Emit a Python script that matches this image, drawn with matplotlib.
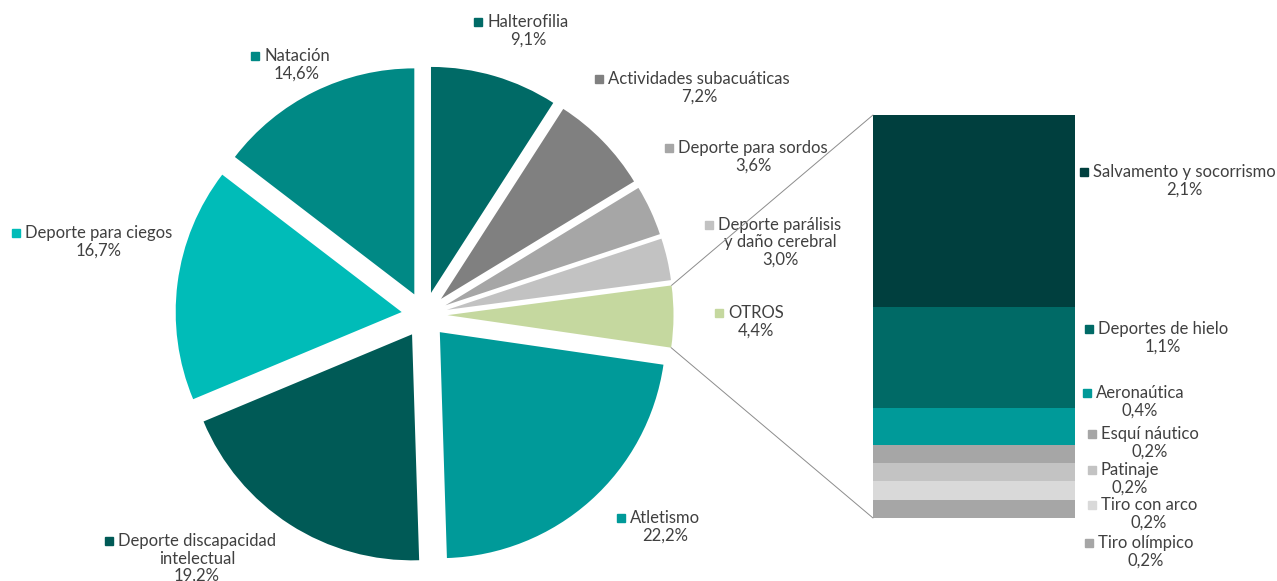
import matplotlib
matplotlib.use("Agg")
import matplotlib.pyplot as plt
from matplotlib.patches import ConnectionPatch
import numpy as np

plt.rcParams['font.family'] = ['Lato', 'DejaVu Sans']

W, H = 1277, 581

# ---- data ----
pie_labels = ["Halterofilia", "Actividades subacuáticas", "Deporte para sordos",
              "Deporte parálisis\ny daño cerebral", "OTROS", "Atletismo",
              "Deporte discapacidad\nintelectual", "Deporte para ciegos", "Natación"]
pie_values = [9.1, 7.2, 3.6, 3.0, 4.4, 22.2, 19.2, 16.7, 14.6]
pie_colors = ["#006a66", "#808080", "#a6a6a6", "#c2c2c2", "#c5d89f",
              "#009a99", "#005a56", "#00bcb8", "#008985"]

bar_labels = ["Salvamento y socorrismo", "Deportes de hielo", "Aeronaútica",
              "Esquí náutico", "Patinaje", "Tiro con arco", "Tiro olímpico"]
bar_values = [2.1, 1.1, 0.4, 0.2, 0.2, 0.2, 0.2]
bar_colors = ["#003f3e", "#006a66", "#009a99", "#a6a6a6", "#c3c3c3", "#d9d9d9", "#a6a6a6"]

# ---- layout (image pixel coords: label centre x, first-line y) ----
pie_label_pos = [(528, 22), (699, 79), (753, 148), (780, 225), (756, 313),
                 (665, 518), (197, 541), (99, 233), (297, 56)]
bar_label_pos = [(1184, 172), (1163, 329), (1140, 393), (1150, 434),
                 (1130, 470), (1149, 505), (1146, 543)]
pie_cx, pie_cy, pie_r, pie_d = 424.5, 315, 226, 23
bar_left, bar_top, bar_w, bar_bottom = 873, 115, 202, 518
line_h = 17.5
txt_color = "#404040"
fsize = 12


def fmt(v):
    return f"{v:.1f}%".replace(".", ",")


fig = plt.figure(figsize=(W / 100, H / 100), dpi=100)
ax = fig.add_axes([0, 0, 1, 1])

wedges, _ = ax.pie(pie_values, colors=pie_colors, startangle=90, counterclock=False,
                   radius=pie_r, center=(pie_cx, H - pie_cy),
                   explode=[pie_d] * len(pie_values),
                   wedgeprops=dict(linewidth=0))
ax.set_xlim(0, W)
ax.set_ylim(0, H)
ax.set_aspect('auto')
ax.axis('off')

# bar axes
bax = fig.add_axes([bar_left / W, (H - bar_bottom) / H, bar_w / W, (bar_bottom - bar_top) / H])
bottom = 0
for v, c in zip(bar_values[::-1], bar_colors[::-1]):
    bax.bar(0, v, bottom=bottom, width=1, color=c, linewidth=0)
    bottom += v
bax.set_xlim(-0.5, 0.5)
bax.set_ylim(0, sum(bar_values))
bax.axis('off')

# connector lines from OTROS wedge
w = wedges[4]
cx, cy = w.center
for ang, yb in [(w.theta2, 1), (w.theta1, 0)]:
    px = cx + w.r * np.cos(np.radians(ang))
    py = cy + w.r * np.sin(np.radians(ang))
    con = ConnectionPatch(xyA=(px, py), coordsA=ax.transData,
                          xyB=(0, yb), coordsB=bax.transAxes,
                          color="#8c8c8c", lw=0.7)
    fig.add_artist(con)

fig.canvas.draw()
renderer = fig.canvas.get_renderer()


def put_label(name, pct, pos, color):
    x, y = pos
    lines = name.split("\n") + [pct]
    first = None
    for i, ln in enumerate(lines):
        t = ax.text(x, H - (y + i * line_h), ln, ha='center', va='center',
                    fontsize=fsize, color=txt_color)
        if i == 0:
            first = t
    bb = first.get_window_extent(renderer)
    mx = bb.x0 - 9
    ax.plot([mx], [H - y], marker='s', markersize=6, color=color, linestyle='none')


for name, v, pos, c in zip(pie_labels, pie_values, pie_label_pos, pie_colors):
    put_label(name, fmt(v), pos, c)
for name, v, pos, c in zip(bar_labels, bar_values, bar_label_pos, bar_colors):
    put_label(name, fmt(v), pos, c)

fig.savefig("out.png", dpi=100)
